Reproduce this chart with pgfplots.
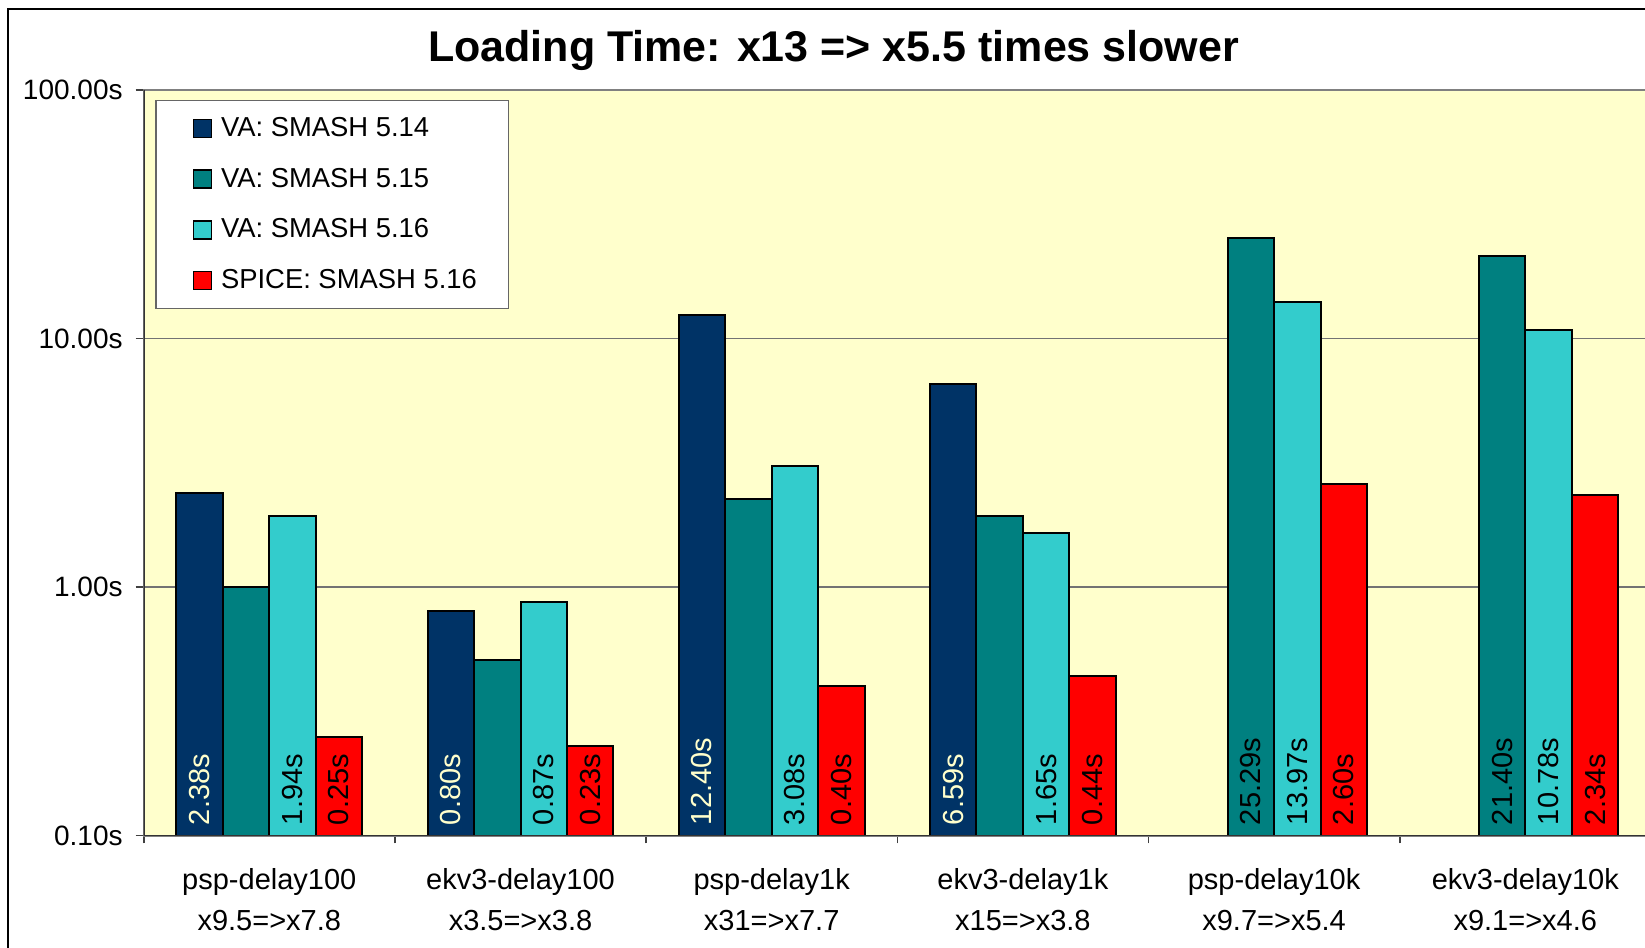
\documentclass[border=0pt]{standalone}
\usepackage{fontspec}
\setmainfont{Liberation Sans}
\usepackage{pgfplots}
\pgfplotsset{compat=1.18}
\definecolor{cNavy}{HTML}{003366}
\definecolor{cTeal}{HTML}{008080}
\definecolor{cCyan}{HTML}{33CCCC}
\definecolor{cRed}{HTML}{FF0000}
\definecolor{cBg}{HTML}{FFFFCC}
\begin{document}
\begin{tikzpicture}
\begin{axis}[
  at={(71.85pt,56.25pt)}, anchor=south west,
  scale only axis, width=753.6pt, height=372.75pt,
  ymode=log, ymin=0.1, ymax=100, log origin=infty,
  xmin=-0.5, xmax=5.5,
  ybar=0pt, bar width=0.185,
  axis background/.style={fill=cBg},
  axis line style={draw=gray, line width=1pt},
  ytick={0.1,1,10,100}, yticklabels={0.10s,1.00s,10.00s,100.00s},
  yminorticks=false,
  xtick pos=lower, ytick pos=left,
  ymajorgrids, major grid style={draw=black!55, line width=0.7pt},
  xtick={0,1,2,3,4,5},
  xticklabels={{psp-delay100\\x9.5=>x7.8},{ekv3-delay100\\x3.5=>x3.8},{psp-delay1k\\x31=>x7.7},{ekv3-delay1k\\x15=>x3.8},{psp-delay10k\\x9.7=>x5.4},{ekv3-delay10k\\x9.1=>x4.6}},
  minor xtick={-0.5,0.5,1.5,2.5,3.5,4.5,5.5},
  major x tick style={draw=none},
  tick align=outside, major tick length=4pt, minor tick length=4pt,
  tick style={draw=black!75, line width=0.8pt},
  yticklabel style={font=\fontsize{14}{16}\selectfont, xshift=-3pt},
  xticklabel style={align=center, font=\fontsize{14.5}{20.5}\selectfont, yshift=-9.15pt},
  title={Loading Time: x13 => x5.5 times slower},
  title style={font=\bfseries\fontsize{21.5}{24}\selectfont, at={(rel axis cs:0.4577,1)}, anchor=base, yshift=8.1pt},
  legend cell align=left,
  legend style={at={(rel axis cs:0.0078,0.987)}, anchor=north west,
    draw=black!60, line width=0.6pt, fill=white,
    font=\fontsize{13.7}{16}\selectfont,
    inner xsep=13pt, inner ysep=5.8pt, row sep=8.75pt,
    nodes={inner sep=2.75pt}},
]
\addplot[fill=cNavy, draw=black, line width=1pt, bar shift=-0.2775,
  legend image code/.code={\path (0pt,0pt) (15.75pt,0pt);\draw[fill=cNavy,draw=black,line width=0.8pt] (5.25pt,-4.5pt) rectangle (14.25pt,4.5pt);}]
  coordinates {(0,2.38) (1,0.80) (2,12.40) (3,6.59)};
\addlegendentry{VA: SMASH 5.14}
\addplot[fill=cTeal, draw=black, line width=1pt, bar shift=-0.0925,
  legend image code/.code={\path (0pt,0pt) (15.75pt,0pt);\draw[fill=cTeal,draw=black,line width=0.8pt] (5.25pt,-4.5pt) rectangle (14.25pt,4.5pt);}]
  coordinates {(0,1.00) (1,0.51) (2,2.25) (3,1.94) (4,25.29) (5,21.40)};
\addlegendentry{VA: SMASH 5.15}
\addplot[fill=cCyan, draw=black, line width=1pt, bar shift=0.0925,
  legend image code/.code={\path (0pt,0pt) (15.75pt,0pt);\draw[fill=cCyan,draw=black,line width=0.8pt] (5.25pt,-4.5pt) rectangle (14.25pt,4.5pt);}]
  coordinates {(0,1.94) (1,0.87) (2,3.08) (3,1.65) (4,13.97) (5,10.78)};
\addlegendentry{VA: SMASH 5.16}
\addplot[fill=cRed, draw=black, line width=1pt, bar shift=0.2775,
  legend image code/.code={\path (0pt,0pt) (15.75pt,0pt);\draw[fill=cRed,draw=black,line width=0.8pt] (5.25pt,-4.5pt) rectangle (14.25pt,4.5pt);}]
  coordinates {(0,0.25) (1,0.23) (2,0.40) (3,0.44) (4,2.60) (5,2.34)};
\addlegendentry{SPICE: SMASH 5.16}
% value labels inside the bars, at their feet
\addplot[forget plot, draw=none, fill=none, bar shift=-0.2775,
  point meta=explicit symbolic, nodes near coords,
  every node near coord/.append style={rotate=90, anchor=west, text=cBg,
    font=\fontsize{14.5}{16}\selectfont, inner xsep=5pt, inner ysep=1pt}]
  coordinates {(0,0.1)[2.38s] (1,0.1)[0.80s] (2,0.1)[12.40s] (3,0.1)[6.59s]};
\addplot[forget plot, draw=none, fill=none, bar shift=-0.0925,
  point meta=explicit symbolic, nodes near coords,
  every node near coord/.append style={rotate=90, anchor=west, text=black,
    font=\fontsize{14.5}{16}\selectfont, inner xsep=5pt, inner ysep=1pt}]
  coordinates {(4,0.1)[25.29s] (5,0.1)[21.40s]};
\addplot[forget plot, draw=none, fill=none, bar shift=0.0925,
  point meta=explicit symbolic, nodes near coords,
  every node near coord/.append style={rotate=90, anchor=west, text=black,
    font=\fontsize{14.5}{16}\selectfont, inner xsep=5pt, inner ysep=1pt}]
  coordinates {(0,0.1)[1.94s] (1,0.1)[0.87s] (2,0.1)[3.08s] (3,0.1)[1.65s] (4,0.1)[13.97s] (5,0.1)[10.78s]};
\addplot[forget plot, draw=none, fill=none, bar shift=0.2775,
  point meta=explicit symbolic, nodes near coords,
  every node near coord/.append style={rotate=90, anchor=west, text=black,
    font=\fontsize{14.5}{16}\selectfont, inner xsep=5pt, inner ysep=1pt}]
  coordinates {(0,0.1)[0.25s] (1,0.1)[0.23s] (2,0.1)[0.40s] (3,0.1)[0.44s] (4,0.1)[2.60s] (5,0.1)[2.34s]};
\draw[black!80, line width=1pt] (rel axis cs:0,1) -- (rel axis cs:0,0) -- (rel axis cs:1,0);
\end{axis}
\draw[black, line width=1pt] (4.2pt,-20pt) -- (4.2pt,469.5pt) -- (900pt,469.5pt);
\pgfresetboundingbox
\useasboundingbox (0pt,0pt) rectangle (822.5pt,474pt);
\end{tikzpicture}
\end{document}
